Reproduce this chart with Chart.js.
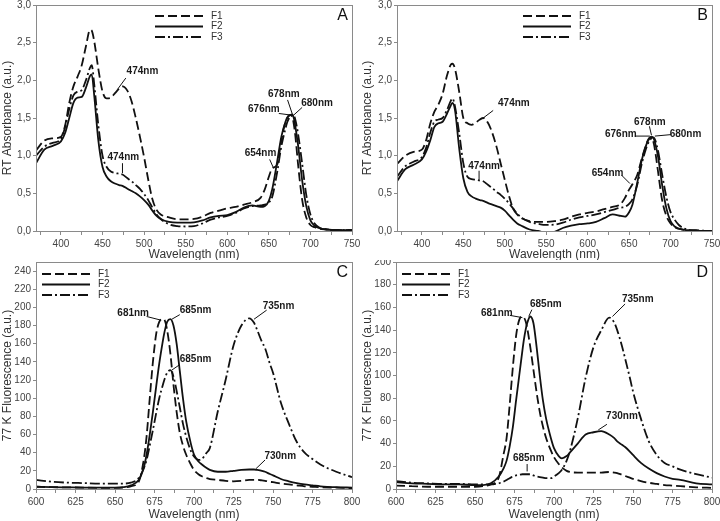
<!DOCTYPE html>
<html><head><meta charset="utf-8">
<script src="https://cdn.jsdelivr.net/npm/chart.js@4/dist/chart.umd.min.js"></script>
<style>
html,body{margin:0;padding:0;background:#fff;width:720px;height:521px;overflow:hidden;}
canvas{position:absolute;}
</style></head><body>
<canvas id="cA" width="360" height="260" style="left:0;top:0"></canvas>
<canvas id="cB" width="360" height="260" style="left:360px;top:0"></canvas>
<canvas id="cC" width="360" height="261" style="left:0;top:260px"></canvas>
<canvas id="cD" width="360" height="261" style="left:360px;top:260px"></canvas>
<script>
const seriesNames = ['F1', 'F2', 'F3'];

// Absorbance wavelengths (nm)
const wlAbs = [370,380,390,400,405,410,415,420,425,430,
  435,437,440,445,450,455,460,465,470,474,
  480,485,490,495,500,505,510,515,520,530,
  540,550,560,570,580,590,600,610,620,630,
  640,645,650,654,660,665,670,672,674,676,
  678,680,682,685,690,695,700,705,710,720,
  730,750];

const absA_F1 = [1.07,1.20,1.23,1.25,1.40,1.70,1.92,2.05,2.20,2.45,
  2.67,2.66,2.52,2.15,1.85,1.76,1.77,1.83,1.89,1.92,
  1.86,1.72,1.50,1.25,0.98,0.68,0.42,0.28,0.22,0.18,
  0.155,0.155,0.16,0.19,0.24,0.27,0.30,0.32,0.35,0.38,
  0.44,0.55,0.72,0.83,0.88,1.20,1.45,1.50,1.53,1.54,
  1.52,1.42,1.25,0.90,0.42,0.18,0.08,0.05,0.03,0.02,
  0.01,0.01];
const absA_F2 = [0.90,1.08,1.13,1.19,1.30,1.50,1.70,1.77,1.78,1.90,
  2.06,2.08,1.80,1.20,0.85,0.72,0.66,0.63,0.61,0.60,
  0.56,0.53,0.50,0.46,0.41,0.35,0.27,0.20,0.16,0.12,
  0.11,0.11,0.115,0.14,0.18,0.20,0.21,0.25,0.31,0.34,
  0.32,0.33,0.40,0.55,0.92,1.25,1.45,1.50,1.53,1.54,
  1.55,1.50,1.38,1.15,0.68,0.33,0.14,0.07,0.04,0.02,
  0.01,0.01];
const absA_F3 = [1.00,1.12,1.17,1.22,1.38,1.62,1.80,1.85,1.87,2.00,
  2.17,2.20,1.95,1.40,1.00,0.85,0.79,0.77,0.76,0.75,
  0.70,0.66,0.61,0.56,0.49,0.41,0.31,0.22,0.16,0.09,
  0.065,0.06,0.065,0.10,0.15,0.18,0.20,0.24,0.30,0.33,
  0.34,0.35,0.38,0.45,0.78,1.12,1.36,1.44,1.49,1.52,
  1.54,1.54,1.47,1.30,0.90,0.48,0.22,0.10,0.05,0.02,
  0.01,0.01];

const absB_F1 = [0.89,1.00,1.05,1.08,1.20,1.42,1.58,1.68,1.82,2.05,
  2.21,2.22,2.15,1.85,1.50,1.43,1.41,1.44,1.48,1.50,
  1.43,1.30,1.12,0.90,0.68,0.47,0.30,0.22,0.17,0.13,
  0.12,0.12,0.13,0.15,0.19,0.22,0.24,0.26,0.29,0.32,
  0.36,0.44,0.55,0.62,0.75,0.95,1.13,1.19,1.23,1.25,
  1.23,1.15,1.02,0.78,0.40,0.20,0.10,0.05,0.03,0.01,
  0.005,0.0];
const absB_F2 = [0.66,0.82,0.88,0.95,1.05,1.20,1.38,1.43,1.45,1.55,
  1.67,1.70,1.60,1.10,0.70,0.52,0.46,0.43,0.41,0.40,
  0.37,0.35,0.33,0.31,0.27,0.21,0.15,0.10,0.07,0.02,
  0.00,-0.02,-0.01,0.04,0.07,0.09,0.10,0.12,0.17,0.22,
  0.20,0.19,0.25,0.35,0.65,0.93,1.12,1.18,1.22,1.24,
  1.25,1.22,1.14,0.98,0.60,0.30,0.13,0.06,0.03,0.01,
  0.005,0.0];
const absB_F3 = [0.72,0.86,0.92,0.98,1.10,1.30,1.45,1.48,1.50,1.60,
  1.73,1.76,1.65,1.30,0.90,0.72,0.69,0.68,0.67,0.66,
  0.61,0.57,0.52,0.48,0.43,0.37,0.30,0.23,0.18,0.12,
  0.095,0.08,0.085,0.11,0.15,0.18,0.20,0.22,0.25,0.28,
  0.31,0.32,0.36,0.42,0.62,0.88,1.08,1.14,1.19,1.22,
  1.24,1.24,1.19,1.06,0.74,0.45,0.25,0.15,0.08,0.02,
  0.01,0.0];

// 77 K fluorescence wavelengths (nm)
const wlFl = [600,610,620,630,640,650,655,660,665,668,
  670,672,674,676,678,680,681,682,683,685,
  687,689,691,693,695,698,700,703,705,708,
  710,715,720,725,730,735,738,740,743,745,
  748,750,755,760,765,770,775,780,790,800];

const flC_F1 = [2.5,2,1.8,1.5,1.3,1.2,1.5,3,8,30,
  58,100,140,170,184,187,187,183,175,150,
  115,85,62,48,38,27,21,16,14,12,
  11,10,9,8.5,9,10,10,10,9.5,9,
  8,7.5,6,5,4,3,2.5,2,1.5,1];
const flC_F2 = [2.5,2,1.8,1.6,1.5,1.5,2,4,10,22,
  38,60,85,112,138,160,170,178,184,187,
  180,160,130,100,75,50,38,30,27,23,
  21,19,19,20,21,21.5,21.5,21,20,19,
  16.5,15,11,8.5,6.5,5,4,3,2,1.5];
const flC_F3 = [10,8,7,6.5,6,6,6,7,12,22,
  32,48,65,83,100,113,119,124,128,131,
  124,108,90,72,58,42,36,32,33,40,
  45,85,120,158,180,188,183,175,162,155,
  138,128,95,72,52,40,33,27,19,13];

const flD_F1 = [3,2.5,2,2,2,2,2.5,4,10,30,
  45,75,108,135,149,152,151,148,142,125,
  105,85,68,55,45,34,28,22,19,16,
  15,14.5,14.5,14.5,14.5,15,14.5,14,12.5,11.5,
  10,9,7,5.5,4.5,3.5,3,2.5,1.5,1];
const flD_F2 = [6,5,4.5,4,4,3.5,3.5,5,11,18,
  25,38,55,78,100,122,132,140,146,152,
  146,125,100,78,62,45,36,29,27,29,
  32,40,48,50,51,48,45,42,39,37,
  33,30,23,18,14,11,9,8,5,4];
const flD_F3 = [7,5.5,5,4.5,4.5,4,4,4,5,6.5,
  8,9.5,11,12,12.5,13,13,13,13,13,
  12,11,10.5,10,9.5,9.5,11,14,17,25,
  33,62,98,125,140,151,147,140,126,115,
  98,86,62,42,30,23,20,17,13,10];

// Tick values and labels
const xTicksAbs = [375,400,425,450,475,500,525,550,575,600,625,650,675,700,725,750];
const xLabelsAbs = [400,450,500,550,600,650,700,750];
const yTicksAbs = [0,0.5,1,1.5,2,2.5,3];
const yLabelsAbs = ['0,0','0,5','1,0','1,5','2,0','2,5','3,0'];
const xTicksFl = [600,612.5,625,637.5,650,662.5,675,687.5,700,712.5,725,737.5,750,762.5,775,787.5,800];
const xLabelsFl = [600,625,650,675,700,725,750,775,800];
const yTicksC = [0,20,40,60,80,100,120,140,160,180,200,220,240];
const yTicksD = [0,20,40,60,80,100,120,140,160,180,200];

// Peak annotations (data units): label centre and leader line
const annA = [
  {t:'474nm', lx:498, ly:2.12, x1:478, y1:2.03, x2:468, y2:1.88},
  {t:'474nm', lx:475, ly:0.98, x1:474, y1:0.90, x2:474, y2:0.77},
  {t:'654nm', lx:640, ly:1.03, x1:651, y1:0.95, x2:655, y2:0.85},
  {t:'676nm', lx:644, ly:1.62, x1:662, y1:1.56, x2:676, y2:1.54},
  {t:'678nm', lx:668, ly:1.81, x1:672.5, y1:1.74, x2:678, y2:1.56},
  {t:'680nm', lx:708, ly:1.69, x1:690, y1:1.64, x2:680, y2:1.54}
];
const annB = [
  {t:'474nm', lx:511, ly:1.70, x1:486, y1:1.60, x2:474, y2:1.50},
  {t:'474nm', lx:475, ly:0.86, x1:469, y1:0.80, x2:469, y2:0.68},
  {t:'654nm', lx:624, ly:0.77, x1:641, y1:0.74, x2:651, y2:0.63},
  {t:'676nm', lx:640, ly:1.28, x1:657, y1:1.26, x2:675, y2:1.26},
  {t:'678nm', lx:675, ly:1.45, x1:674.5, y1:1.39, x2:677, y2:1.27},
  {t:'680nm', lx:718, ly:1.29, x1:701, y1:1.28, x2:681, y2:1.26}
];
const annC = [
  {t:'681nm', lx:661.5, ly:193.6, x1:670, y1:190, x2:679, y2:186},
  {t:'685nm', lx:701, ly:197, x1:691, y1:192, x2:686, y2:187},
  {t:'685nm', lx:701, ly:143, x1:691, y1:137, x2:686, y2:131},
  {t:'735nm', lx:753.5, ly:201.7, x1:746, y1:197, x2:738, y2:187},
  {t:'730nm', lx:754.6, ly:36, x1:745, y1:32, x2:739, y2:22}
];
const annD = [
  {t:'681nm', lx:663.8, ly:155, x1:672, y1:153, x2:680, y2:151},
  {t:'685nm', lx:694.8, ly:163, x1:686, y1:158, x2:684, y2:152},
  {t:'735nm', lx:753, ly:167, x1:745, y1:163, x2:737, y2:152},
  {t:'730nm', lx:743, ly:64, x1:733.5, y1:57, x2:728, y2:52},
  {t:'685nm', lx:684, ly:27.4, x1:683, y1:22, x2:683, y2:15.5}
];

const FONT = '"Liberation Sans", Arial, sans-serif';
Chart.defaults.font.family = FONT;
const dashes = [[9,4], [], [10,3,2,3]];

const decoPlugin = {
  id: 'deco',
  afterDatasetsDraw(chart, args, o) {
    const ctx = chart.ctx, xs = chart.scales.x, ys = chart.scales.y, a = chart.chartArea;
    ctx.save();
    // frame
    ctx.strokeStyle = '#8a8a8a'; ctx.lineWidth = 1; ctx.setLineDash([]);
    ctx.strokeRect(Math.round(a.left) + 0.5, Math.round(a.top) + 0.5, Math.round(a.right - a.left), Math.round(a.bottom - a.top));
    // annotations
    ctx.strokeStyle = '#111'; ctx.lineWidth = 1;
    ctx.fillStyle = '#1a1a1a'; ctx.font = 'bold 10px ' + FONT;
    ctx.textAlign = 'center'; ctx.textBaseline = 'middle';
    o.ann.forEach(n => {
      ctx.beginPath();
      ctx.moveTo(xs.getPixelForValue(n.x1), ys.getPixelForValue(n.y1));
      ctx.lineTo(xs.getPixelForValue(n.x2), ys.getPixelForValue(n.y2));
      ctx.stroke();
      ctx.fillText(n.t, xs.getPixelForValue(n.lx), ys.getPixelForValue(n.ly));
    });
    // legend
    chart.data.datasets.forEach((ds, i) => {
      const y = o.legY + i * o.legDy;
      ctx.beginPath();
      ctx.setLineDash(ds.borderDash || []);
      ctx.lineWidth = 2; ctx.strokeStyle = '#111';
      ctx.moveTo(o.legX, y); ctx.lineTo(o.legX + 48, y); ctx.stroke();
      ctx.setLineDash([]);
      ctx.fillStyle = '#333'; ctx.font = '10px ' + FONT;
      ctx.textAlign = 'left'; ctx.textBaseline = 'middle';
      ctx.fillText(ds.label, o.legX + 56, y);
    });
    // panel letter
    ctx.fillStyle = '#111'; ctx.font = '16px ' + FONT;
    ctx.textAlign = 'right'; ctx.textBaseline = 'middle';
    ctx.fillText(o.letter, a.right - 4, a.top + 11);
    ctx.restore();
  }
};

function makePanel(id, o) {
  const datasets = o.series.map((vals, i) => ({
    label: seriesNames[i],
    data: o.wl.map((w, k) => ({x: w, y: vals[k]})),
    borderColor: '#111', borderWidth: 1.8, borderDash: dashes[i],
    pointRadius: 0, fill: false, cubicInterpolationMode: 'monotone'
  }));
  new Chart(document.getElementById(id), {
    type: 'line',
    data: {datasets},
    options: {
      responsive: false, animation: false, events: [],
      layout: {padding: {left: 0, right: 8, top: o.padTop, bottom: 0}},
      plugins: {legend: {display: false}, tooltip: {enabled: false},
        deco: {ann: o.ann, legX: o.legX, legY: o.legY, legDy: 10.5, letter: o.letter}},
      scales: {
        x: {
          type: 'linear', min: o.xMin, max: o.xMax,
          afterBuildTicks: s => { s.ticks = o.xTicks.map(v => ({value: v})); },
          afterFit: s => { s.height = o.xH; s.paddingLeft = 0; s.paddingRight = 0; },
          ticks: {autoSkip: false, maxRotation: 0, padding: 3, color: '#444', font: {size: 10},
            callback: v => o.xLabels.includes(v) ? String(v) : ''},
          grid: {display: true, drawOnChartArea: false, drawTicks: true, tickLength: 4, color: '#8a8a8a'},
          border: {display: false},
          title: {display: true, text: 'Wavelength (nm)', color: '#333',
            font: {size: 12, lineHeight: 1}, padding: {top: 0, bottom: o.xTitlePad}}
        },
        y: {
          min: o.yMin, max: o.yMax,
          afterBuildTicks: s => { s.ticks = o.yTicks.map(v => ({value: v})); },
          afterFit: s => { s.width = o.yW; s.paddingTop = 0; s.paddingBottom = 0; },
          ticks: {autoSkip: false, padding: 2, color: '#444', font: {size: 10},
            callback: (v, i) => o.yLabels[i]},
          grid: {display: true, drawOnChartArea: false, drawTicks: true, tickLength: 3, color: '#8a8a8a'},
          border: {display: false},
          title: {display: true, text: o.yTitle, color: '#333',
            font: {size: 12, lineHeight: 1.2}, padding: {top: 0, bottom: 0}}
        }
      }
    },
    plugins: [decoPlugin]
  });
}

const absCommon = {wl: wlAbs, xMin: 370, xMax: 750, xTicks: xTicksAbs, xLabels: xLabelsAbs,
  yMin: 0, yMax: 3, yTicks: yTicksAbs, yLabels: yLabelsAbs, yTitle: 'RT Absorbance (a.u.)',
  padTop: 5, xH: 29, xTitlePad: -1, legY: 16};
const flCommon = {wl: wlFl, xMin: 600, xMax: 800, xTicks: xTicksFl, xLabels: xLabelsFl,
  yMin: 0, yTitle: '77 K Fluorescence (a.u.)', padTop: 2, xH: 32, xTitlePad: 0, legY: 14, legX: 42, yW: 36};

makePanel('cA', Object.assign({}, absCommon, {series: [absA_F1, absA_F2, absA_F3], ann: annA, legX: 155, yW: 36, letter: 'A'}));
makePanel('cB', Object.assign({}, absCommon, {series: [absB_F1, absB_F2, absB_F3], ann: annB, legX: 163, yW: 37, letter: 'B'}));
makePanel('cC', Object.assign({}, flCommon, {series: [flC_F1, flC_F2, flC_F3], ann: annC, yMax: 250,
  yTicks: yTicksC, yLabels: yTicksC.map(String), letter: 'C'}));
makePanel('cD', Object.assign({}, flCommon, {series: [flD_F1, flD_F2, flD_F3], ann: annD, yMax: 200,
  yTicks: yTicksD, yLabels: yTicksD.map(String), letter: 'D'}));
</script>
</body></html>
